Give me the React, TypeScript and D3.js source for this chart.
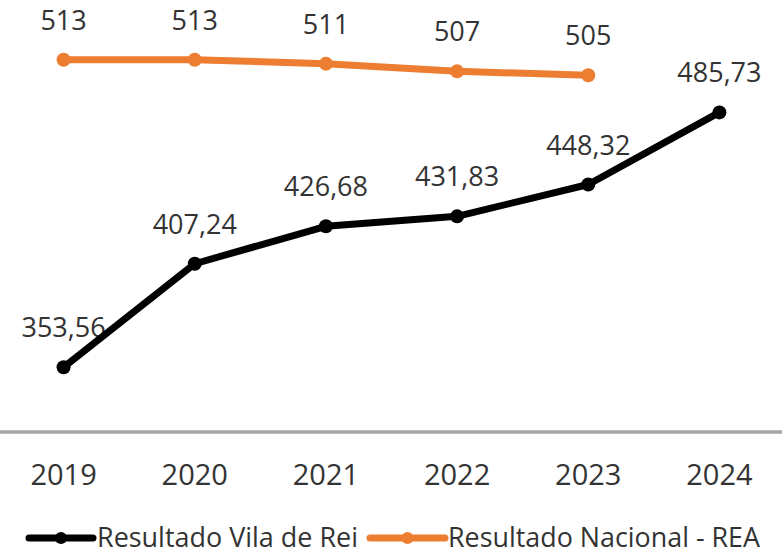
import React from "react";
import * as d3 from "d3";

const years = ["2019", "2020", "2021", "2022", "2023", "2024"];
const vilaDeRei = [353.56, 407.24, 426.68, 431.83, 448.32, 485.73];
const nacionalREA = [513, 513, 511, 507, 505];
const seriesNames = ["Resultado Vila de Rei", "Resultado Nacional - REA"];

const width = 782;
const height = 556;
const baseY = 432;

const pt = d3.formatLocale({
  decimal: ",",
  thousands: ".",
  grouping: [3],
  currency: ["", " €"],
});
const fmt2 = pt.format(".2f");
const fmt0 = pt.format(".0f");

const labelFont = "'Open Sans', 'DejaVu Sans', sans-serif";

const App = () => {
  const x = d3.scalePoint<string>().domain(years).range([-2, 785]).padding(0.5);
  const y = d3.scaleLinear().domain([320, 544]).range([baseY, 0]);

  const line = d3
    .line<[string, number]>()
    .x((d) => x(d[0]) as number)
    .y((d) => y(d[1]));

  const black: [string, number][] = vilaDeRei.map((v, i) => [years[i], v]);
  const orange: [string, number][] = nacionalREA.map((v, i) => [years[i], v]);

  const series = [
    { name: seriesNames[0], data: black, color: "#000000", fmt: fmt2 },
    { name: seriesNames[1], data: orange, color: "#ED7D31", fmt: fmt0 },
  ];

  const legend = [
    { x0: 29, x1: 93, tx: 97, len: 261 },
    { x0: 370, x1: 445, tx: 448, len: 312 },
  ];

  return (
    <div style={{ position: "absolute", left: 0, top: 0 }}>
      <svg width={width} height={height} style={{ display: "block", background: "#fff" }}>
        {/* axis line */}
        <line x1={0} x2={width} y1={baseY} y2={baseY} stroke="#a6a6a6" strokeWidth={3.5} />
        {years.map((yr) => (
          <text
            key={yr}
            x={x(yr)}
            y={485}
            textAnchor="middle"
            fontFamily={labelFont}
            fontSize={29}
            fill="#333"
          >
            {yr}
          </text>
        ))}

        {/* data labels (under the lines) */}
        {series.map((s) =>
          s.data.map((d) => (
            <text
              key={s.name + d[0]}
              x={x(d[0])}
              y={y(d[1]) - 30}
              textAnchor="middle"
              fontFamily={labelFont}
              fontSize={27}
              fill="#333"
            >
              {s.fmt(d[1])}
            </text>
          ))
        )}

        {series.map((s) => (
          <g key={s.name}>
            <path
              d={line(s.data) || ""}
              fill="none"
              stroke={s.color}
              strokeWidth={7}
              strokeLinejoin="round"
            />
            {s.data.map((d) => (
              <circle key={d[0]} cx={x(d[0])} cy={y(d[1])} r={7} fill={s.color} />
            ))}
          </g>
        ))}

        {/* legend */}
        {series.map((s, i) => (
          <g key={"lg" + s.name}>
            <line
              x1={legend[i].x0}
              x2={legend[i].x1}
              y1={538}
              y2={538}
              stroke={s.color}
              strokeWidth={7}
              strokeLinecap="round"
            />
            <circle cx={(legend[i].x0 + legend[i].x1) / 2} cy={538} r={6} fill={s.color} />
            <text
              x={legend[i].tx}
              y={547}
              fontFamily={labelFont}
              fontSize={28}
              fill="#333"
              textLength={legend[i].len}
              lengthAdjust="spacingAndGlyphs"
            >
              {s.name}
            </text>
          </g>
        ))}
      </svg>
    </div>
  );
};

export default App;
